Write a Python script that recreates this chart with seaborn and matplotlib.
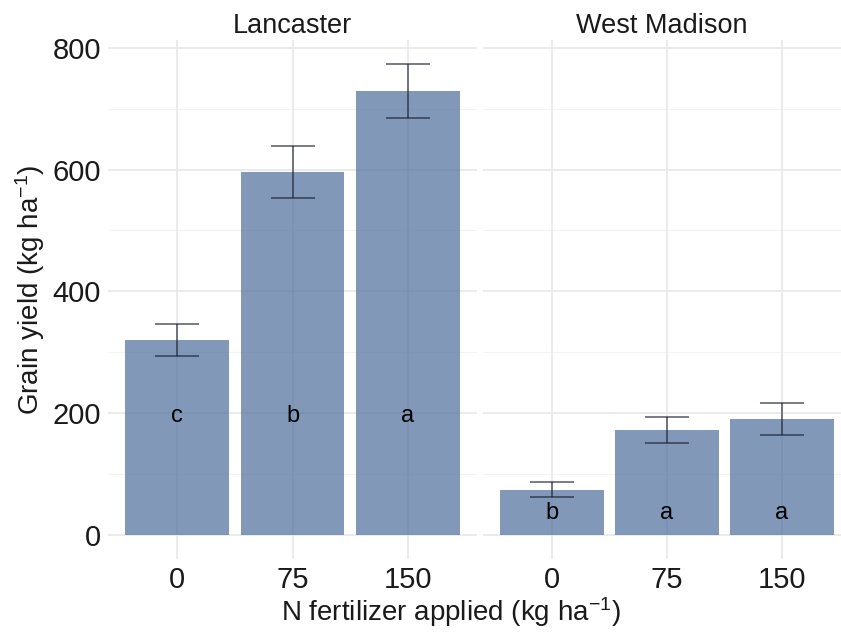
import matplotlib
matplotlib.use("Agg")
import matplotlib.pyplot as plt
import seaborn as sns
import pandas as pd
import numpy as np

# ---- data ----
sites = ["Lancaster", "West Madison"]
n_rates = ["0", "75", "150"]
lancaster_yield = [320, 596, 729]
lancaster_se = [27, 42, 45]
lancaster_letters = ["c", "b", "a"]
madison_yield = [74, 172, 190]
madison_se = [12, 22, 26]
madison_letters = ["b", "a", "a"]
yticks = [0, 200, 400, 600, 800]

df = pd.DataFrame({
    "site": [sites[0]] * 3 + [sites[1]] * 3,
    "N": n_rates * 2,
    "yield": lancaster_yield + madison_yield,
    "se": lancaster_se + madison_se,
    "letter": lancaster_letters + madison_letters,
})
letter_y = {"Lancaster": 195, "West Madison": 36}

sns.set_theme(style="white")
plt.rcParams["font.family"] = ["Liberation Sans", "DejaVu Sans"]
plt.rcParams["mathtext.fontset"] = "custom"
plt.rcParams["mathtext.rm"] = "Liberation Sans"
plt.rcParams["mathtext.it"] = "Liberation Sans:italic"

W, H = 841, 637
fig = plt.figure(figsize=(W / 100, H / 100), dpi=100)

top_px, bot_px = 40, 559
ymin, ymax = -40, 813
panels = [(108, 477, 2.6), (483, 841, 2.6 - (851 - 841) / 115.0)]

bar_color = "#4C6D9C"
grid_major = "#E8E8E8"
grid_minor = "#F3F3F3"

axes = []
for i, site in enumerate(sites):
    l, r, xmax = panels[i]
    ax = fig.add_axes([l / W, (H - bot_px) / H, (r - l) / W, (bot_px - top_px) / H])
    axes.append(ax)
    sub = df[df.site == site]
    # grid
    for yv in [100, 300, 500, 700]:
        ax.axhline(yv, color=grid_minor, lw=0.8, zorder=0)
    for yv in yticks:
        ax.axhline(yv, color=grid_major, lw=1.2, zorder=0)
    for xv in range(3):
        ax.axvline(xv, color=grid_major, lw=1.2, zorder=0)
    sns.barplot(data=sub, x="N", y="yield", order=n_rates, color=bar_color,
                width=0.9, errorbar=None, ax=ax, alpha=0.7, zorder=2,
                saturation=1, linewidth=0)
    ax.errorbar(np.arange(3), sub["yield"], yerr=sub["se"], fmt="none",
                ecolor=(0.1, 0.12, 0.18, 0.75), elinewidth=1.1, capsize=16,
                capthick=1.1, zorder=3)
    for j, lt in enumerate(sub["letter"]):
        ax.text(j, letter_y[site], lt, ha="center", va="center", fontsize=17,
                color="black", zorder=4)
    ax.set_xlim(-0.6, xmax)
    ax.set_ylim(ymin, ymax)
    ax.set_xlabel("")
    ax.set_ylabel("")
    for s in ax.spines.values():
        s.set_visible(False)
    ax.tick_params(axis="both", length=0, labelsize=21, colors="#1a1a1a")
    ax.tick_params(axis="x", pad=5)
    ax.tick_params(axis="y", pad=5)
    ax.set_yticks(yticks)
    ax.set_xticks(range(3))
    ax.set_xticklabels(n_rates)
    if i == 1:
        ax.set_yticklabels([])
    ax.set_facecolor("none")
    ax.set_title(site, fontsize=19.5, pad=5, color="#1a1a1a")

fig.text(451 / W, 1 - 612 / H, r"N fertilizer applied (kg ha$^{\mathregular{-1}}$)",
         ha="center", va="center", fontsize=20, color="#1a1a1a")
fig.text(30 / W, 1 - 290 / H, r"Grain yield (kg ha$^{\mathregular{-1}}$)",
         ha="center", va="center", rotation=90, fontsize=20, color="#1a1a1a")

fig.savefig("out.png", dpi=100)
